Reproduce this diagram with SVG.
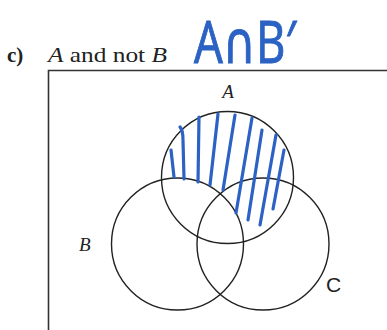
<svg xmlns="http://www.w3.org/2000/svg" width="387" height="330" viewBox="0 0 387 330">
<style>
.lbl{font-family:"Liberation Serif",serif;font-style:italic;fill:#222}
.circ{fill:none;stroke:#222;stroke-width:1.4}
.hatch{fill:none;stroke:#2b62c4;stroke-width:3.2;stroke-linecap:round}
</style>
<rect width="387" height="330" fill="#fff"/>
<g id="title">
<text x="7" y="62" font-family="Liberation Serif,serif" font-size="21" font-weight="bold" fill="#222">c)</text>
<text x="48" y="62" font-family="Liberation Serif,serif" font-size="21" fill="#222" textLength="119" lengthAdjust="spacingAndGlyphs"><tspan font-style="italic">A</tspan> and not <tspan font-style="italic">B</tspan></text>
</g>
<g id="annotation">
<text x="194" y="63" font-family="Open Sans,DejaVu Sans,sans-serif" font-size="58" fill="#2b62c4" stroke="#2b62c4" stroke-width="1" textLength="102" lengthAdjust="spacingAndGlyphs">A∩B′</text>
</g>
<g id="universe">
<path d="M48.5 330 V70.5 H387" fill="none" stroke="#333" stroke-width="1.6"/>
</g>
<g id="setA">
<circle class="circ" cx="227.5" cy="177.5" r="66"/>
<text class="lbl" x="228" y="98" font-size="19" text-anchor="middle">A</text>
</g>
<g id="setB">
<circle class="circ" cx="177.5" cy="244" r="66"/>
<text class="lbl" x="79" y="251" font-size="19">B</text>
</g>
<g id="setC">
<circle class="circ" cx="263" cy="244" r="66"/>
<text x="326" y="292" font-family="Liberation Sans,sans-serif" font-size="21" fill="#222">C</text>
</g>
<g id="shading">
<path class="hatch" d="M171 150 L174 177"/>
<path class="hatch" d="M180 127 Q183 130 183 140 L184 179"/>
<path class="hatch" d="M199 117 L198 182"/>
<path class="hatch" d="M218 114 L210 185"/>
<path class="hatch" d="M235 115 L223 190"/>
<path class="hatch" d="M252 118 L236 213"/>
<path class="hatch" d="M262 130 L248 220"/>
<path class="hatch" d="M276 135 L260 225"/>
<path class="hatch" d="M284 150 L273 209"/>
</g>
</svg>
